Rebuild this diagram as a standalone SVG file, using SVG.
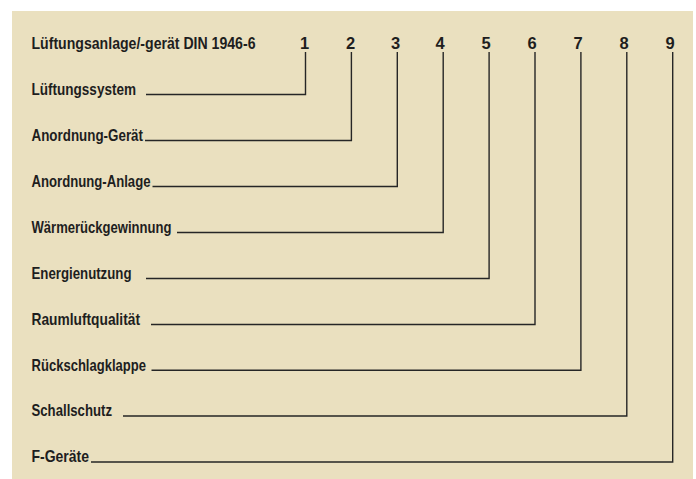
<svg xmlns="http://www.w3.org/2000/svg" width="696" height="479" viewBox="0 0 696 479">
<style>
.t{font-family:"Liberation Sans Narrow","Liberation Sans",Arial,sans-serif;font-weight:bold;font-size:16.5px;fill:#1e1e1e}
.n{text-anchor:middle}
.c{fill:none;stroke:#262626;stroke-width:1.4}
</style>
<rect width="696" height="479" fill="#ffffff"/>
<rect x="12" y="11" width="681" height="468" fill="#EAE0BF"/>
<g id="header">
<text class="t" x="31.5" y="49" textLength="224" lengthAdjust="spacingAndGlyphs">Lüftungsanlage/-gerät DIN 1946-6</text>
<text class="t n" x="304.5" y="49">1</text>
<text class="t n" x="350.5" y="49">2</text>
<text class="t n" x="395.5" y="49">3</text>
<text class="t n" x="440" y="49">4</text>
<text class="t n" x="486" y="49">5</text>
<text class="t n" x="532" y="49">6</text>
<text class="t n" x="578" y="49">7</text>
<text class="t n" x="624" y="49">8</text>
<text class="t n" x="670" y="49">9</text>
</g>
<g id="n1"><text class="t" x="31.5" y="95" textLength="104.5" lengthAdjust="spacingAndGlyphs">Lüftungssystem</text></g>
<g id="n2"><text class="t" x="31.5" y="141" textLength="111.5" lengthAdjust="spacingAndGlyphs">Anordnung-Gerät</text></g>
<g id="n3"><text class="t" x="31.5" y="187" textLength="119" lengthAdjust="spacingAndGlyphs">Anordnung-Anlage</text></g>
<g id="n4"><text class="t" x="31.5" y="233" textLength="140" lengthAdjust="spacingAndGlyphs">Wärmerückgewinnung</text></g>
<g id="n5"><text class="t" x="31.5" y="279" textLength="100" lengthAdjust="spacingAndGlyphs">Energienutzung</text></g>
<g id="n6"><text class="t" x="31.5" y="325" textLength="108.5" lengthAdjust="spacingAndGlyphs">Raumluftqualität</text></g>
<g id="n7"><text class="t" x="31.5" y="371" textLength="114.5" lengthAdjust="spacingAndGlyphs">Rückschlagklappe</text></g>
<g id="n8"><text class="t" x="31.5" y="416" textLength="80.5" lengthAdjust="spacingAndGlyphs">Schallschutz</text></g>
<g id="n9"><text class="t" x="31.5" y="462" textLength="57.5" lengthAdjust="spacingAndGlyphs">F-Geräte</text></g>
<g id="connectors">
<polyline class="c" points="146,94.5 305.5,94.5 305.5,52"/>
<polyline class="c" points="145,140.5 351.4,140.5 351.4,52"/>
<polyline class="c" points="152.5,186.5 397.3,186.5 397.3,52"/>
<polyline class="c" points="177,232.5 443.2,232.5 443.2,52"/>
<polyline class="c" points="146,278.5 489.1,278.5 489.1,52"/>
<polyline class="c" points="151,324.5 535,324.5 535,52"/>
<polyline class="c" points="151.5,370.3 580.9,370.3 580.9,52"/>
<polyline class="c" points="123,416 626.8,416 626.8,52"/>
<polyline class="c" points="91,462 672.7,462 672.7,52"/>
</g>
</svg>
